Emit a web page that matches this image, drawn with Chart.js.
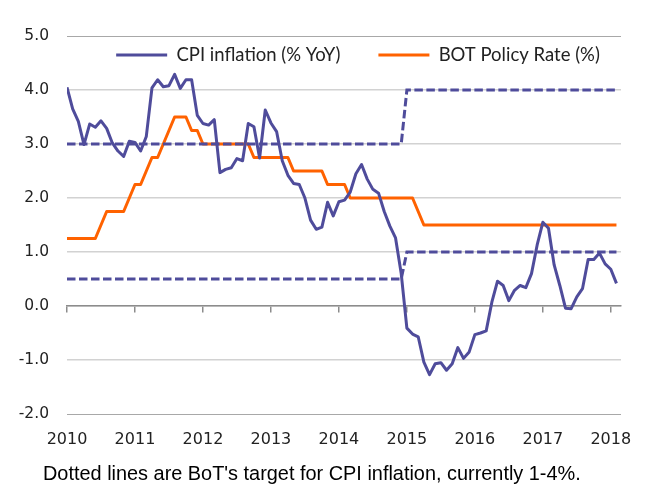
<!DOCTYPE html>
<html>
<head>
<meta charset="utf-8">
<script src="https://cdn.jsdelivr.net/npm/chart.js@4.4.1/dist/chart.umd.min.js"></script>
<style>
  html, body { margin: 0; padding: 0; background: #ffffff; }
  #wrap { position: relative; width: 662px; height: 496px; }
  #c { display: block; }
  #note { position: absolute; left: 43px; top: 463px; font-family: "Liberation Sans", Arial, sans-serif;
          font-size: 19.9px; line-height: 20px; color: #000; white-space: nowrap; }
</style>
</head>
<body>
<div id="wrap">
  <canvas id="c" width="662" height="496" style="width:662px;height:496px"></canvas>
  <div id="note">Dotted lines are BoT's target for CPI inflation, currently 1-4%.</div>
</div>
<script>
// Monthly data, Jan 2010 .. Feb 2018
const yearLabels = ['2010', '2011', '2012', '2013', '2014', '2015', '2016', '2017', '2018'];
const yTickLabels = ['-2.0', '-1.0', '0.0', '1.0', '2.0', '3.0', '4.0', '5.0'];

const cpiInflation = [
  4.05, 3.65, 3.42, 2.99, 3.37, 3.31, 3.43, 3.29, 3.02, 2.87, 2.77, 3.05,
  3.03, 2.87, 3.14, 4.04, 4.19, 4.06, 4.08, 4.29, 4.03, 4.19, 4.19, 3.53,
  3.38, 3.35, 3.45, 2.47, 2.53, 2.56, 2.73, 2.69, 3.38, 3.32, 2.74, 3.63,
  3.39, 3.23, 2.69, 2.42, 2.27, 2.25, 2.00, 1.59, 1.42, 1.46, 1.92, 1.67,
  1.93, 1.96, 2.11, 2.45, 2.62, 2.35, 2.16, 2.09, 1.75, 1.48, 1.26, 0.60,
  -0.41, -0.52, -0.57, -1.04, -1.27, -1.07, -1.05, -1.19, -1.07, -0.77, -0.97, -0.85,
  -0.53, -0.50, -0.46, 0.07, 0.46, 0.38, 0.10, 0.29, 0.38, 0.34, 0.60, 1.13,
  1.55, 1.44, 0.76, 0.38, -0.04, -0.05, 0.17, 0.32, 0.86, 0.86, 0.98, 0.78,
  0.68, 0.42
];

const botPolicyRate = [
  1.25, 1.25, 1.25, 1.25, 1.25, 1.25, 1.50, 1.75, 1.75, 1.75, 1.75, 2.00,
  2.25, 2.25, 2.50, 2.75, 2.75, 3.00, 3.25, 3.50, 3.50, 3.50, 3.25, 3.25,
  3.00, 3.00, 3.00, 3.00, 3.00, 3.00, 3.00, 3.00, 3.00, 2.75, 2.75, 2.75,
  2.75, 2.75, 2.75, 2.75, 2.50, 2.50, 2.50, 2.50, 2.50, 2.50, 2.25, 2.25,
  2.25, 2.25, 2.00, 2.00, 2.00, 2.00, 2.00, 2.00, 2.00, 2.00, 2.00, 2.00,
  2.00, 2.00, 1.75, 1.50, 1.50, 1.50, 1.50, 1.50, 1.50, 1.50, 1.50, 1.50,
  1.50, 1.50, 1.50, 1.50, 1.50, 1.50, 1.50, 1.50, 1.50, 1.50, 1.50, 1.50,
  1.50, 1.50, 1.50, 1.50, 1.50, 1.50, 1.50, 1.50, 1.50, 1.50, 1.50, 1.50,
  1.50, 1.50
];

const targetUpper = [
  3.0, 3.0, 3.0, 3.0, 3.0, 3.0, 3.0, 3.0, 3.0, 3.0, 3.0, 3.0,
  3.0, 3.0, 3.0, 3.0, 3.0, 3.0, 3.0, 3.0, 3.0, 3.0, 3.0, 3.0,
  3.0, 3.0, 3.0, 3.0, 3.0, 3.0, 3.0, 3.0, 3.0, 3.0, 3.0, 3.0,
  3.0, 3.0, 3.0, 3.0, 3.0, 3.0, 3.0, 3.0, 3.0, 3.0, 3.0, 3.0,
  3.0, 3.0, 3.0, 3.0, 3.0, 3.0, 3.0, 3.0, 3.0, 3.0, 3.0, 3.0,
  4.0, 4.0, 4.0, 4.0, 4.0, 4.0, 4.0, 4.0, 4.0, 4.0, 4.0, 4.0,
  4.0, 4.0, 4.0, 4.0, 4.0, 4.0, 4.0, 4.0, 4.0, 4.0, 4.0, 4.0,
  4.0, 4.0, 4.0, 4.0, 4.0, 4.0, 4.0, 4.0, 4.0, 4.0, 4.0, 4.0,
  4.0, 4.0
];

const targetLower = [
  0.5, 0.5, 0.5, 0.5, 0.5, 0.5, 0.5, 0.5, 0.5, 0.5, 0.5, 0.5,
  0.5, 0.5, 0.5, 0.5, 0.5, 0.5, 0.5, 0.5, 0.5, 0.5, 0.5, 0.5,
  0.5, 0.5, 0.5, 0.5, 0.5, 0.5, 0.5, 0.5, 0.5, 0.5, 0.5, 0.5,
  0.5, 0.5, 0.5, 0.5, 0.5, 0.5, 0.5, 0.5, 0.5, 0.5, 0.5, 0.5,
  0.5, 0.5, 0.5, 0.5, 0.5, 0.5, 0.5, 0.5, 0.5, 0.5, 0.5, 0.5,
  1.0, 1.0, 1.0, 1.0, 1.0, 1.0, 1.0, 1.0, 1.0, 1.0, 1.0, 1.0,
  1.0, 1.0, 1.0, 1.0, 1.0, 1.0, 1.0, 1.0, 1.0, 1.0, 1.0, 1.0,
  1.0, 1.0, 1.0, 1.0, 1.0, 1.0, 1.0, 1.0, 1.0, 1.0, 1.0, 1.0,
  1.0, 1.0
];

const seriesLabels = ['CPI inflation (% YoY)', 'BOT Policy Rate (%)'];

const COLOR_CPI = '#4f4c9b';
const COLOR_BOT = '#ff6200';

const toXY = arr => arr.map((v, i) => ({ x: i, y: v }));
const yearTicks = scale => { scale.ticks = yearLabels.map((_, k) => ({ value: k * 12 })); };

// Place the (horizontal) legend inside the top of the plot area, as in the original figure.
const LEGEND_PAD = 38;
const LEGEND_FONT = 18.5;
const legendPlacement = {
  id: 'legendPlacement',
  afterLayout(chart) {
    const lg = chart.legend;
    if (!lg) return;
    const centerY = 55, centerX = 358;
    lg.top = centerY - LEGEND_PAD - LEGEND_FONT / 2;
    lg.height = LEGEND_PAD * 2 + LEGEND_FONT;
    lg.bottom = lg.top + lg.height;
    const d = centerX - (lg.left + lg.right) / 2;
    lg.left += d; lg.right += d;
  }
};

new Chart(document.getElementById('c'), {
  type: 'line',
  data: {
    datasets: [
      { label: seriesLabels[0], data: toXY(cpiInflation), borderColor: COLOR_CPI, backgroundColor: COLOR_CPI,
        borderWidth: 3, pointRadius: 0, tension: 0, borderJoinStyle: 'round' },
      { label: 'Target upper', data: toXY(targetUpper), borderColor: COLOR_CPI, backgroundColor: COLOR_CPI,
        borderWidth: 3, borderDash: [8.5, 3.5], pointRadius: 0, tension: 0 },
      { label: 'Target lower', data: toXY(targetLower), borderColor: COLOR_CPI, backgroundColor: COLOR_CPI,
        borderWidth: 3, borderDash: [8.5, 3.5], pointRadius: 0, tension: 0 },
      { label: seriesLabels[1], data: toXY(botPolicyRate), borderColor: COLOR_BOT, backgroundColor: COLOR_BOT,
        borderWidth: 3, pointRadius: 0, tension: 0, borderJoinStyle: 'round' }
    ]
  },
  options: {
    responsive: false,
    animation: false,
    events: [],
    layout: { padding: { top: 36, right: 41, left: 0, bottom: 0 } },
    scales: {
      x: {
        type: 'linear', min: 0, max: 97.8,
        afterBuildTicks: yearTicks,
        afterFit: s => { s.height = 82; },
        grid: { display: false, drawTicks: false },
        border: { display: false },
        ticks: { padding: 16, color: '#222', font: { family: 'DejaVu Sans', size: 16 },
                 maxRotation: 0, autoSkip: false,
                 callback: v => yearLabels[Math.round(v / 12)] }
      },
      x0: {
        type: 'linear', axis: 'x', position: { y: 0 }, min: 0, max: 97.8,
        afterBuildTicks: yearTicks,
        grid: { drawOnChartArea: false, drawTicks: true, tickLength: 6, color: '#8c8c8c', lineWidth: 1.5 },
        border: { display: true, color: '#8c8c8c', width: 1.5 },
        ticks: { display: false }
      },
      y: {
        type: 'linear', min: -2, max: 5,
        afterFit: s => { s.width = 67; },
        grid: { drawTicks: false,
                color: c => (c.tick && (c.tick.value === -2 || c.tick.value === 5)) ? '#a8a8a8' : '#d2d2d2',
                lineWidth: c => (c.tick && (c.tick.value === -2 || c.tick.value === 5)) ? 1 : 1.6 },
        border: { display: false },
        ticks: { stepSize: 1, padding: 18, color: '#222', font: { family: 'DejaVu Sans', size: 15.5 },
                 callback: v => yTickLabels[Math.round(v) + 2] }
      }
    },
    plugins: {
      tooltip: { enabled: false },
      title: { display: false },
      legend: {
        position: 'top',
        align: 'center',
        maxHeight: 0.01,
        labels: {
          boxWidth: 51, boxHeight: 3, padding: LEGEND_PAD, color: '#222',
          font: { family: 'Lato', size: LEGEND_FONT },
          generateLabels: chart => Chart.defaults.plugins.legend.labels.generateLabels(chart)
            .map(l => Object.assign(l, { lineWidth: 0, lineDash: [] })),
          filter: item => seriesLabels.includes(item.text)
        }
      }
    }
  },
  plugins: [legendPlacement]
});
</script>
</body>
</html>
